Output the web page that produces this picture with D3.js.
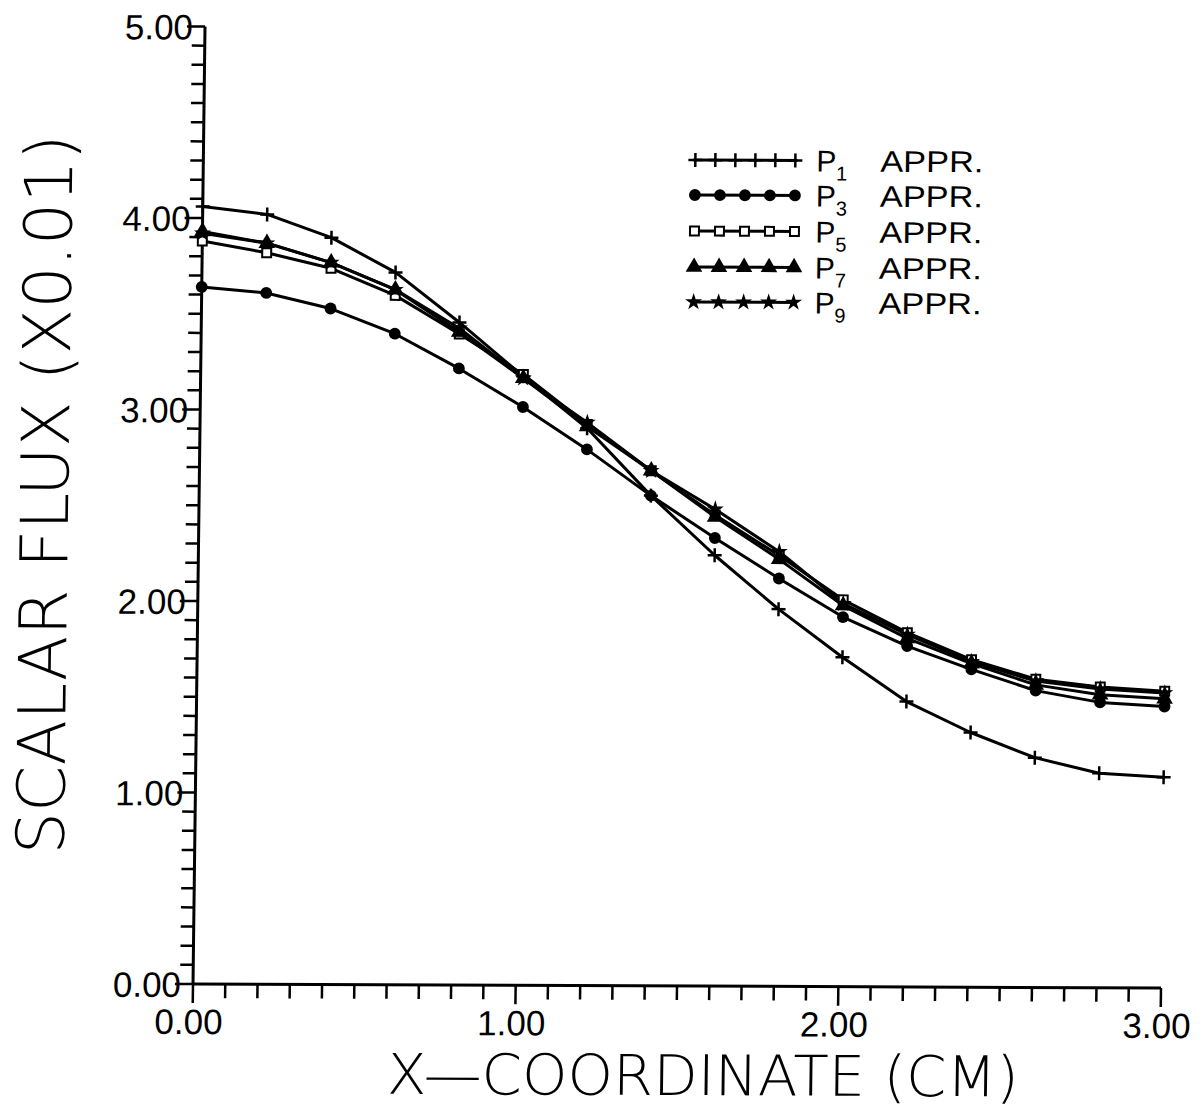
<html>
<head>
<script src="https://d3js.org/d3.v7.min.js"></script>
<style>
  body { margin: 0; background: #fff; }
  .tick-label { font-family: "Liberation Sans", Arial, sans-serif; font-size: 35px; fill: #000; }
  .axis-title { font-family: "DejaVu Sans", "Liberation Sans", sans-serif; font-weight: 200; fill: #000; }
  .leg-text { font-family: "Liberation Sans", Arial, sans-serif; font-size: 30px; fill: #000; }
</style>
</head>
<body>
<svg id="chart" width="1203" height="1108"></svg>
<script>
// x positions of the mesh points (cm)
const xCoord = [0.0, 0.2, 0.4, 0.6, 0.8, 1.0, 1.2, 1.4, 1.6, 1.8, 2.0, 2.2, 2.4, 2.6, 2.8, 3.0];

// scalar flux (x0.01) for each approximation
const fluxP1 = [4.06, 4.02, 3.90, 3.72, 3.46, 3.18, 2.91, 2.56, 2.25, 1.97, 1.72, 1.49, 1.33, 1.20, 1.12, 1.10];
const fluxP3 = [3.64, 3.61, 3.53, 3.40, 3.22, 3.02, 2.80, 2.56, 2.34, 2.13, 1.93, 1.78, 1.66, 1.55, 1.49, 1.47];
const fluxP5 = [3.88, 3.82, 3.74, 3.60, 3.40, 3.19, 2.93, 2.69, 2.46, 2.25, 2.02, 1.85, 1.71, 1.61, 1.57, 1.55];
const fluxP7 = [3.93, 3.87, 3.77, 3.63, 3.41, 3.17, 2.92, 2.69, 2.45, 2.23, 1.99, 1.82, 1.69, 1.58, 1.53, 1.51];
const fluxP9 = [3.92, 3.87, 3.77, 3.63, 3.43, 3.17, 2.94, 2.69, 2.49, 2.27, 2.00, 1.84, 1.70, 1.60, 1.56, 1.54];

const seriesNames = ["1", "3", "5", "7", "9"];
const xTickLabels = ["0.00", "1.00", "2.00", "3.00"];
const yTickLabels = ["0.00", "1.00", "2.00", "3.00", "4.00", "5.00"];

const svg = d3.select("svg#chart");

// the scanned plot is slightly skewed, so the whole drawing gets a small shear
const g = svg.append("g")
    .attr("transform", "matrix(1,0.00413,-0.01254,1,12.34,-0.80)");

const x = d3.scaleLinear().domain([0, 3]).range([193, 1161]);
const y = d3.scaleLinear().domain([0, 5]).range([984, 26.5]);

// A. axes
g.append("line")
    .attr("x1", x(0)).attr("x2", x(3))
    .attr("y1", y(0)).attr("y2", y(0))
    .attr("stroke", "black").attr("stroke-width", 3);
g.append("line")
    .attr("x1", x(0)).attr("x2", x(0))
    .attr("y1", y(0)).attr("y2", y(5))
    .attr("stroke", "black").attr("stroke-width", 3);

// x ticks every 0.1, longer at whole numbers
const xTicks = d3.range(0, 31).map(i => i / 10);
g.selectAll("line.xtick").data(xTicks)
    .join("line")
    .attr("class", "xtick")
    .attr("x1", d => x(d)).attr("x2", d => x(d))
    .attr("y1", y(0))
    .attr("y2", (d, i) => y(0) + (i % 10 === 0 ? 19 : 14))
    .attr("stroke", "black").attr("stroke-width", 2.5);

g.selectAll("text.xlab").data(xTickLabels)
    .join("text")
    .attr("class", "tick-label")
    .attr("x", d => x(+d) - 4)
    .attr("y", 1034)
    .attr("text-anchor", "middle")
    .text(d => d);

// y ticks every 0.1, longer at whole numbers
const yTicks = d3.range(0, 51).map(i => i / 10);
g.selectAll("line.ytick").data(yTicks)
    .join("line")
    .attr("class", "ytick")
    .attr("y1", d => y(d)).attr("y2", d => y(d))
    .attr("x1", x(0))
    .attr("x2", (d, i) => x(0) - (i % 10 === 0 ? 18 : 13))
    .attr("stroke", "black").attr("stroke-width", 2.5);

g.selectAll("text.ylab").data(yTickLabels)
    .join("text")
    .attr("class", "tick-label")
    .attr("x", 181)
    .attr("y", d => y(+d) + 13)
    .attr("text-anchor", "end")
    .text(d => d);

// axis titles
g.append("text")
    .attr("class", "axis-title")
    .attr("transform", "translate(62,495) rotate(-90)")
    .attr("text-anchor", "middle")
    .attr("font-size", 66)
    .attr("textLength", 720)
    .attr("lengthAdjust", "spacingAndGlyphs")
    .text("SCALAR FLUX (X0.01)");

g.append("text")
    .attr("class", "axis-title")
    .attr("x", 704)
    .attr("y", 1093)
    .attr("text-anchor", "middle")
    .attr("font-size", 56)
    .attr("textLength", 632)
    .attr("lengthAdjust", "spacingAndGlyphs")
    .text("X\u2014COORDINATE (CM)");

// B. curves
const series = [fluxP1, fluxP3, fluxP5, fluxP7, fluxP9];
const line = d3.line().x((d, i) => x(xCoord[i])).y(d => y(d));

const plot = g.append("g");
series.forEach(s => {
    plot.append("path")
        .datum(s)
        .attr("fill", "none")
        .attr("stroke", "black")
        .attr("stroke-width", 3)
        .attr("stroke-linejoin", "round")
        .attr("d", line);
});

// markers: P1 plus, P3 dot, P5 open square, P7 triangle, P9 star
function drawMarker(sel, k) {
    if (k === 0) {
        sel.append("path")
            .attr("d", "M-7,0H7M0,-7V7")
            .attr("stroke", "black").attr("stroke-width", 2.5);
    } else if (k === 1) {
        sel.append("path").attr("d", d3.symbol(d3.symbolCircle, 110)()).attr("fill", "black");
    } else if (k === 2) {
        sel.append("path").attr("d", d3.symbol(d3.symbolSquare, 80)())
            .attr("fill", "white").attr("stroke", "black").attr("stroke-width", 2);
    } else if (k === 3) {
        sel.append("path").attr("d", d3.symbol(d3.symbolTriangle, 120)()).attr("fill", "black");
    } else {
        sel.append("path").attr("d", d3.symbol(d3.symbolStar, 90)()).attr("fill", "black");
    }
}

series.forEach((s, k) => {
    plot.selectAll("g.m" + k).data(s)
        .join("g")
        .attr("class", "m" + k)
        .attr("transform", (d, i) => "translate(" + x(xCoord[i]) + "," + y(d) + ")")
        .each(function () { drawMarker(d3.select(this), k); });
});

// C. legend
const legend = g.append("g");
const legRows = [158, 193, 229, 265, 300];
seriesNames.forEach((nm, k) => {
    const ry = legRows[k];
    const row = legend.append("g").attr("transform", "translate(0," + ry + ")");
    row.append("line")
        .attr("x1", 683).attr("x2", 787)
        .attr("stroke", "black").attr("stroke-width", 3);
    const nMarks = k === 0 ? 6 : 5;
    const mx = d3.range(nMarks).map(i => 685 + i * (100 / (nMarks - 1)));
    mx.forEach(px => {
        const m = row.append("g").attr("transform", "translate(" + px + ",0)");
        drawMarker(m, k);
    });
    const t = row.append("text").attr("class", "leg-text").attr("x", 806).attr("y", 11);
    t.append("tspan").text("P");
    t.append("tspan").attr("font-size", 20).attr("dy", 9).text(nm);
    row.append("text").attr("class", "leg-text")
        .attr("x", 870).attr("y", 11)
        .attr("textLength", 103)
        .attr("lengthAdjust", "spacingAndGlyphs")
        .text("APPR.");
});
</script>
</body>
</html>
